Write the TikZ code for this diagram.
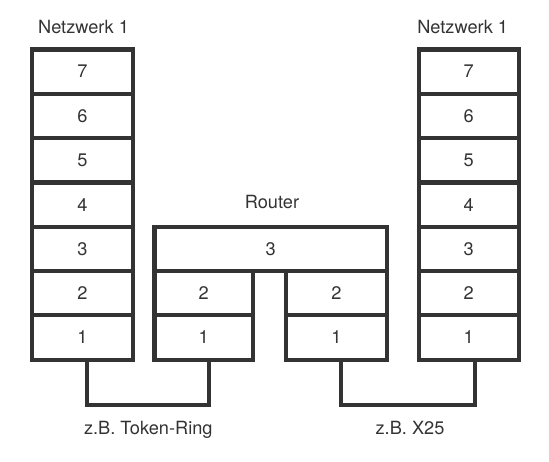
\documentclass[tikz,border=0pt]{standalone}
\usepackage{fontspec}
\setmainfont{TeX Gyre Heros}
\usetikzlibrary{positioning}
\definecolor{lineG}{HTML}{333333}

\begin{document}
\begin{tikzpicture}[x=1pt, y=-1pt, font=\fontsize{18.2}{21}\selectfont, text=lineG,
    cell/.style={draw=lineG, line width=4.2pt, minimum height=44.3pt, inner sep=0pt},
    wire/.style={draw=lineG, line width=4.2pt},
    caption/.style={anchor=base, inner sep=0pt}]
  \useasboundingbox (0,0) rectangle (549,461);
  \def\cellh{44.3}
  \def\toprow{49.5}
  % end systems: seven layers each
  \foreach \lay [count=\n from 0] in {7,6,5,4,3,2,1}{
    \node[cell, minimum width=100.7pt] (netL\lay) at (82.4, \toprow+\n*\cellh+\cellh/2) {\lay};
    \node[cell, minimum width=100pt] (netR\lay) at (468.7, \toprow+\n*\cellh+\cellh/2) {\lay};
  }
  % router: shared layer 3, two lower stacks
  \node[cell, minimum width=232.5pt] (rout3) at (270.75, \toprow+4.5*\cellh) {3};
  \foreach \lay/\k in {2/5.5, 1/6.5}{
    \node[cell, minimum width=98.5pt] (routL\lay) at (203.75, \toprow+\k*\cellh) {\lay};
    \node[cell, minimum width=101.3pt] (routR\lay) at (336.35, \toprow+\k*\cellh) {\lay};
  }
  % links
  \draw[wire] ([xshift=4.6pt]netL1.south) -- ++(0,43.5) -| ([xshift=5pt]routL1.south);
  \draw[wire] ([xshift=4.6pt]routR1.south) -- ++(0,43.5) -| ([xshift=6pt]netR1.south);
  % captions
  \node[caption] (netLlab) at (83.5, 33.3) {Netzwerk 1};
  \node[caption] (netRlab) at (462.7, 33.3) {Netzwerk 1};
  \node[caption] (routlab) at (272, 208.3) {Router};
  \node[caption] (linkLlab) at (148.3, 434) {z.B. Token-Ring};
  \node[caption] (linkRlab) at (410, 434) {z.B. X25};
\end{tikzpicture}
\end{document}
